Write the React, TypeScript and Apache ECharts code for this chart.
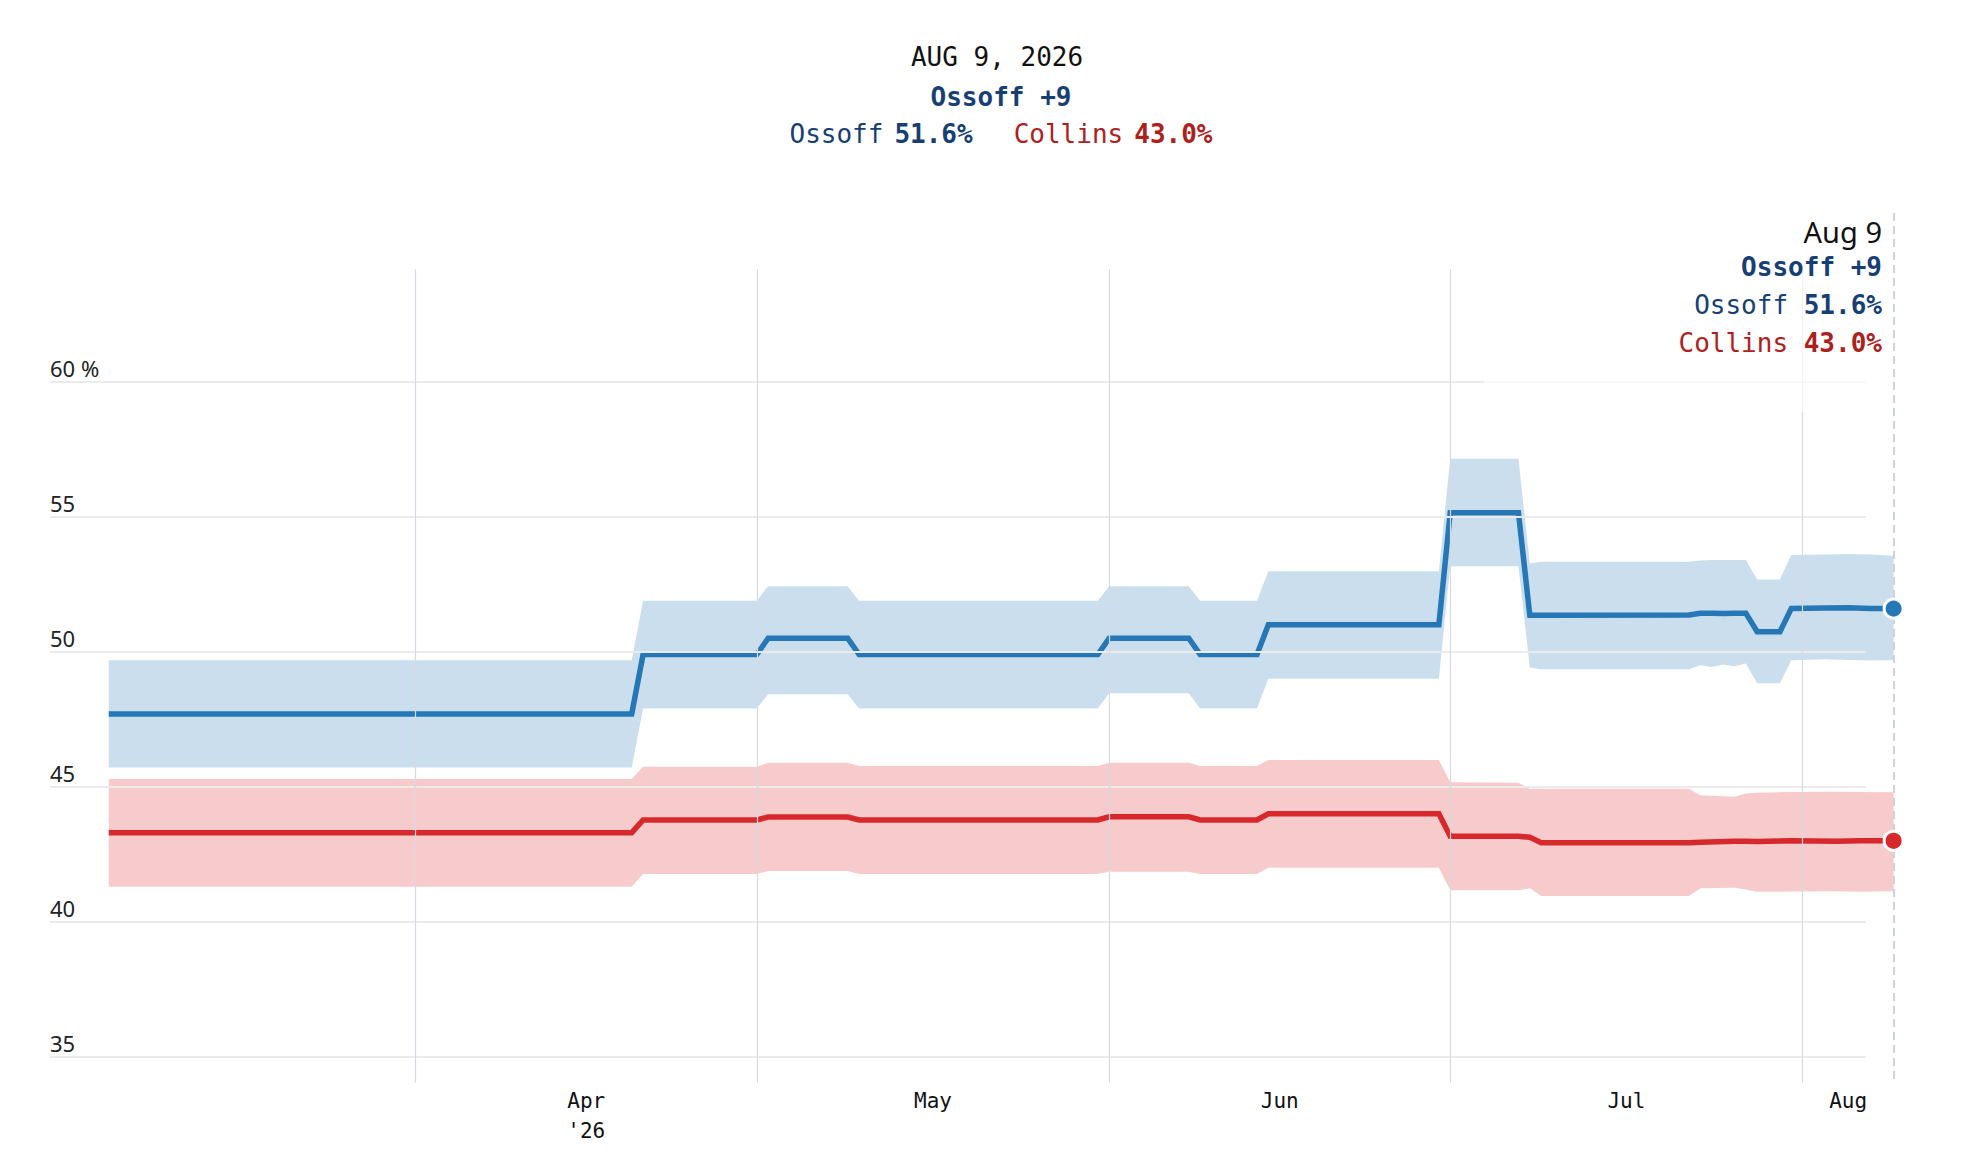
import React, { useEffect, useRef } from "react";
import * as echarts from "echarts";

// ---- data ----
const blueDates = ["2026-03-05","2026-04-20","2026-04-21","2026-05-01","2026-05-02","2026-05-09","2026-05-10","2026-05-31","2026-06-01","2026-06-08","2026-06-09","2026-06-14","2026-06-15","2026-06-30","2026-07-01","2026-07-07","2026-07-08","2026-07-09","2026-07-22","2026-07-23","2026-07-24","2026-07-25","2026-07-26","2026-07-27","2026-07-28","2026-07-30","2026-07-31","2026-08-03","2026-08-05","2026-08-07","2026-08-09"];
const blueMid = [47.7,47.7,49.9,49.9,50.5,50.5,49.9,49.9,50.5,50.5,49.9,49.9,51.0,51.0,55.15,55.15,51.35,51.35,51.36,51.43,51.43,51.42,51.43,51.43,50.74,50.74,51.6,51.62,51.63,51.6,51.6];
const blueHigh = [49.69,49.69,51.89,51.89,52.43,52.43,51.89,51.89,52.43,52.43,51.89,51.89,52.98,52.98,57.15,57.15,53.27,53.33,53.33,53.38,53.4,53.4,53.4,53.4,52.68,52.68,53.58,53.6,53.62,53.6,53.56];
const blueLow = [45.71,45.71,47.9,47.9,48.43,48.43,47.9,47.9,48.46,48.46,47.9,47.9,49.0,49.0,53.17,53.17,49.42,49.35,49.35,49.5,49.44,49.53,49.46,49.57,48.83,48.83,49.69,49.72,49.7,49.68,49.7];

const redDates = ["2026-03-05","2026-04-20","2026-04-21","2026-05-01","2026-05-02","2026-05-09","2026-05-10","2026-05-31","2026-06-01","2026-06-08","2026-06-09","2026-06-14","2026-06-15","2026-06-30","2026-07-01","2026-07-07","2026-07-08","2026-07-09","2026-07-22","2026-07-23","2026-07-26","2026-07-27","2026-07-28","2026-07-31","2026-08-04","2026-08-06","2026-08-09"];
const redMid = [43.3,43.3,43.77,43.77,43.88,43.88,43.77,43.77,43.89,43.89,43.77,43.77,44.0,44.0,43.17,43.17,43.13,42.93,42.93,42.95,42.98,42.98,42.97,43.0,42.98,43.0,43.0];
const redLow = [41.3,41.3,41.77,41.77,41.88,41.88,41.77,41.77,41.85,41.85,41.77,41.77,42.0,42.0,41.17,41.17,41.24,40.96,40.96,41.24,41.26,41.2,41.11,41.12,41.13,41.11,41.13];
const redHigh = [45.29,45.29,45.74,45.74,45.89,45.89,45.77,45.77,45.89,45.89,45.77,45.77,45.99,45.99,45.17,45.15,44.92,44.93,44.93,44.69,44.63,44.75,44.78,44.81,44.82,44.81,44.8];

const yTicks = [35, 40, 45, 50, 55, 60];
const monthStarts = ["2026-04-01", "2026-05-01", "2026-06-01", "2026-07-01", "2026-08-01"];
const monthLabels = ["Apr\n'26", "May", "Jun", "Jul", "Aug"];
const monthShort = ["JAN","FEB","MAR","APR","MAY","JUN","JUL","AUG","SEP","OCT","NOV","DEC"];
const monthTitle = ["Jan","Feb","Mar","Apr","May","Jun","Jul","Aug","Sep","Oct","Nov","Dec"];

const candA = "Ossoff";
const candB = "Collins";

// ---- styling ----
const BLUE = "#2577b5";
const RED = "#d7282b";
const BLUE_TXT = "#173f73";
const RED_TXT = "#ad211d";
const MONO = '"DejaVu Sans Mono", monospace';
const SANS = '"Noto Sans", sans-serif';

const DAY = 86400000;
const ts = (s: string) => {
  const [y, m, d] = s.split("-").map(Number);
  return Date.UTC(y, m - 1, d);
};

export default function App() {
  const ref = useRef<HTMLDivElement>(null);

  useEffect(() => {
    if (!ref.current) return;
    const chart = echarts.init(ref.current, null, { renderer: "svg" });

    const lastDate = blueDates[blueDates.length - 1];
    const endTs = ts(lastDate);
    const xMin = ts(monthStarts[0]) - 32.17 * DAY;
    const yMin = 34.03;
    const yMax = 66.25;
    const vTop = 64.17;
    const gridEnd = ts("2026-08-06") + 0.55 * DAY;

    const lastA = blueMid[blueMid.length - 1];
    const lastB = redMid[redMid.length - 1];
    const lead = Math.round(lastA - lastB);
    const leader = lastA >= lastB ? candA : candB;
    const [ly, lm, ld] = lastDate.split("-").map(Number);

    const labelPos = monthStarts.map((m, i) => {
      const a = ts(m);
      const b = i + 1 < monthStarts.length ? ts(monthStarts[i + 1]) : endTs;
      return (a + b) / 2;
    });

    const pairs = (dates: string[], vals: number[]) => dates.map((d, i) => [ts(d), vals[i]]);

    const bandSeries = (name: string, dates: string[], hi: number[], lo: number[], fill: string) => ({
      name,
      type: "custom",
      silent: true,
      z: 2,
      data: [[ts(dates[0]), hi[0]]],
      renderItem: (params: any, api: any) => {
        const top = dates.map((d, i) => api.coord([ts(d), hi[i]]));
        const bottom = dates.map((d, i) => api.coord([ts(d), lo[i]])).reverse();
        return {
          type: "polygon",
          shape: { points: [...top, ...bottom] },
          style: { fill },
        };
      },
    });

    const option: any = {
      animation: false,
      backgroundColor: "#fff",
      grid: { left: 50, right: 92.4, top: 213, bottom: 85, containLabel: false },
      xAxis: {
        type: "value",
        min: xMin,
        max: endTs,
        axisLine: { show: false },
        axisTick: { show: false },
        splitLine: { show: false },
        axisLabel: {
          customValues: labelPos,
          formatter: (v: number) => {
            let best = 0;
            labelPos.forEach((p, i) => { if (Math.abs(p - v) < Math.abs(labelPos[best] - v)) best = i; });
            return monthLabels[best];
          },
          fontFamily: MONO,
          fontSize: 21,
          lineHeight: 30,
          margin: 3,
          color: "#111",
          hideOverlap: false,
          showMinLabel: true,
          showMaxLabel: true,
        },
      },
      yAxis: {
        type: "value",
        min: yMin,
        max: yMax,
        axisLine: { show: false },
        axisTick: { show: false },
        splitLine: { show: false },
        axisLabel: {
          inside: true,
          customValues: yTicks,
          formatter: (v: number) => (v === yTicks[yTicks.length - 1] ? `${v} %` : `${v}`),
          align: "left",
          verticalAlign: "bottom",
          lineHeight: 28,
          margin: 0,
          fontFamily: SANS,
          fontSize: 22,
          color: "#222",
        },
      },
      series: [
        {
          name: "guides",
          type: "line",
          data: [[xMin, 50]],
          symbol: "none",
          lineStyle: { width: 0, opacity: 0 },
          silent: true,
          clip: false,
          z: 1,
          markLine: {
            silent: true,
            symbol: "none",
            label: { show: false },
            animation: false,
            data: [
              ...yTicks.map((v) => [
                { coord: [xMin, v], lineStyle: { color: "#ebebeb", width: 2, type: "solid" } },
                { coord: [gridEnd, v] },
              ]),
              ...monthStarts.map((m) => [
                { coord: [ts(m), vTop], lineStyle: { color: "#d6dae2", width: 1.2, type: "solid" } },
                { coord: [ts(m), yMin] },
              ]),
              [
                { coord: [endTs, yMax], lineStyle: { color: "#cdd3dc", width: 2, type: [8, 5] } },
                { coord: [endTs, yMin] },
              ],
            ],
          },
        },
        bandSeries("blueBand", blueDates, blueHigh, blueLow, "rgba(37,119,181,0.24)"),
        bandSeries("redBand", redDates, redHigh, redLow, "rgba(224,48,48,0.25)"),
        {
          name: candA,
          type: "line",
          data: pairs(blueDates, blueMid),
          symbol: "none",
          lineStyle: { color: BLUE, width: 5.5, join: "miter" },
          z: 3,
        },
        {
          name: candB,
          type: "line",
          data: pairs(redDates, redMid),
          symbol: "none",
          lineStyle: { color: RED, width: 5.5, join: "miter" },
          z: 3,
        },
        {
          name: "ends",
          type: "scatter",
          data: [
            { value: [endTs, lastA], itemStyle: { color: BLUE } },
            { value: [endTs, lastB], itemStyle: { color: RED } },
          ],
          symbolSize: 19,
          itemStyle: { borderColor: "#fff", borderWidth: 3, opacity: 1 },
          clip: false,
          z: 5,
        },
      ],
      graphic: [
        {
          type: "rect",
          shape: { x: 1484, y: 214, width: 406, height: 198 },
          style: { fill: "rgba(255,255,255,0.65)" },
          silent: true,
          z: 50,
        },
        {
          type: "text",
          x: 997,
          y: 57,
          z: 60,
          style: {
            text: `${monthShort[lm - 1]} ${ld}, ${ly}`,
            fontFamily: MONO,
            fontSize: 26,
            fill: "#111",
            align: "center",
            verticalAlign: "middle",
          },
        },
        {
          type: "text",
          x: 1001,
          y: 96.5,
          z: 60,
          style: {
            text: `${leader} +${lead}`,
            fontFamily: MONO,
            fontSize: 26,
            fontWeight: "bold",
            fill: BLUE_TXT,
            align: "center",
            verticalAlign: "middle",
          },
        },
        {
          type: "text",
          x: 1001,
          y: 133.5,
          z: 60,
          style: {
            text: `{ra|${candA}}{ba|${lastA.toFixed(1)}%}{rb|${candB}}{bb|${lastB.toFixed(1)}%}`,
            align: "center",
            verticalAlign: "middle",
            rich: {
              ra: { fontFamily: MONO, fontSize: 26, fill: BLUE_TXT },
              ba: { fontFamily: MONO, fontSize: 26, fontWeight: "bold", fill: BLUE_TXT, padding: [0, 0, 0, 11] },
              rb: { fontFamily: MONO, fontSize: 26, fill: RED_TXT, padding: [0, 0, 0, 41] },
              bb: { fontFamily: MONO, fontSize: 26, fontWeight: "bold", fill: RED_TXT, padding: [0, 0, 0, 11] },
            },
          },
        },
        {
          type: "text",
          x: 1882,
          y: 231.5,
          z: 60,
          style: {
            text: `${monthTitle[lm - 1]} ${ld}`,
            fontFamily: SANS,
            fontSize: 29,
            fill: "#111",
            align: "right",
            verticalAlign: "middle",
          },
        },
        {
          type: "text",
          x: 1882,
          y: 266.5,
          z: 60,
          style: {
            text: `${leader} +${lead}`,
            fontFamily: MONO,
            fontSize: 26,
            fontWeight: "bold",
            fill: BLUE_TXT,
            align: "right",
            verticalAlign: "middle",
          },
        },
        {
          type: "text",
          x: 1882,
          y: 305,
          z: 60,
          style: {
            text: `{r|${candA} }{b|${lastA.toFixed(1)}%}`,
            align: "right",
            verticalAlign: "middle",
            rich: {
              r: { fontFamily: MONO, fontSize: 26, fill: BLUE_TXT },
              b: { fontFamily: MONO, fontSize: 26, fontWeight: "bold", fill: BLUE_TXT },
            },
          },
        },
        {
          type: "text",
          x: 1882,
          y: 343,
          z: 60,
          style: {
            text: `{r|${candB} }{b|${lastB.toFixed(1)}%}`,
            align: "right",
            verticalAlign: "middle",
            rich: {
              r: { fontFamily: MONO, fontSize: 26, fill: RED_TXT },
              b: { fontFamily: MONO, fontSize: 26, fontWeight: "bold", fill: RED_TXT },
            },
          },
        },
      ],
    };

    chart.setOption(option);
    return () => chart.dispose();
  }, []);

  return (
    <div
      ref={ref}
      style={{ position: "fixed", left: 0, top: 0, width: 1986, height: 1168, background: "#fff" }}
    />
  );
}
